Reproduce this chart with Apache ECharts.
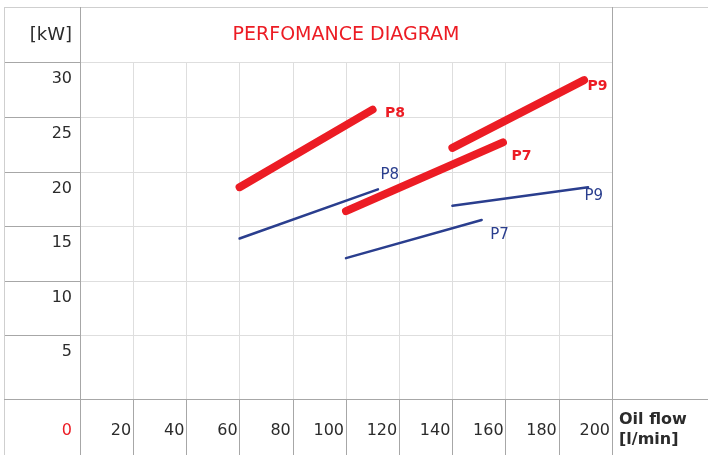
<!DOCTYPE html>
<html>
<head>
<meta charset="utf-8">
<script src="https://cdn.jsdelivr.net/npm/echarts@6/dist/echarts.min.js"></script>
<style>
  html, body { margin: 0; padding: 0; background: #fff; }
  #chart { width: 708px; height: 455px; }
</style>
</head>
<body>
<div id="chart"></div>
<script>
// values: oil flow [l/min] -> power [kW]
const redFlowP8 = [60, 110];
const redKwP8 = [18.6, 25.7];
const blueFlowP8 = [60, 112];
const blueKwP8 = [13.9, 18.4];

const redFlowP7 = [100, 159];
const redKwP7 = [16.4, 22.7];
const blueFlowP7 = [100, 151];
const blueKwP7 = [12.1, 15.6];

const redFlowP9 = [140, 189.5];
const redKwP9 = [22.2, 28.4];
const blueFlowP9 = [140, 191];
const blueKwP9 = [16.9, 18.6];

const yTicks = [5, 10, 15, 20, 25, 30];

const RED = '#ec1c24';
const BLUE = '#2a3e8e';
const DARK = '#a7a7a7';
const LIGHT = '#dedede';
const FONT = 'DejaVu Sans';

const chart = echarts.init(document.getElementById('chart'));

function pts(xs, ys) {
  return xs.map((x, i) => [x, ys[i]]);
}

function curve(name, xs, ys, red, dx, dy) {
  const last = [xs[xs.length - 1], ys[ys.length - 1]];
  return {
    name: name,
    type: 'line',
    data: pts(xs, ys),
    symbol: 'none',
    z: 5,
    lineStyle: {
      color: red ? RED : BLUE,
      width: red ? 8 : 2.5,
      cap: 'round'
    },
    markPoint: {
      silent: true,
      symbol: 'circle',
      symbolSize: 1,
      itemStyle: { color: 'rgba(0,0,0,0)' },
      data: [{ coord: last }],
      label: {
        show: true,
        formatter: name,
        position: [dx, dy],
        align: 'left',
        verticalAlign: 'middle',
        color: red ? RED : BLUE,
        fontFamily: FONT,
        fontSize: red ? 14 : 15,
        fontWeight: red ? 'bold' : 'normal'
      }
    }
  };
}

function hline(x1, x2, y, color) {
  return { type: 'line', z: 100, silent: true, shape: { x1: x1, y1: y, x2: x2, y2: y }, style: { stroke: color, lineWidth: 1 } };
}
function vline(x, y1, y2, color) {
  return { type: 'line', z: 100, silent: true, shape: { x1: x, y1: y1, x2: x, y2: y2 }, style: { stroke: color, lineWidth: 1 } };
}
function label(text, x, y, opts) {
  return {
    type: 'text', z: 100, silent: true, x: x, y: y,
    style: Object.assign({ text: text, fill: '#2b2b2b', fontFamily: FONT, fontSize: 16, verticalAlign: 'middle' }, opts)
  };
}

const option = {
  animation: false,
  backgroundColor: '#fff',
  grid: { left: 80, right: 96, top: 62.7, bottom: 56 },
  xAxis: {
    type: 'value',
    min: 0,
    max: 200,
    interval: 20,
    axisLine: { show: false, onZero: false },
    axisTick: { show: true, inside: false, length: 56, lineStyle: { color: DARK } },
    splitLine: { show: true, lineStyle: { color: LIGHT } },
    axisLabel: {
      align: 'right',
      verticalAlign: 'middle',
      margin: 32,
      padding: [0, 2, 0, 0],
      color: '#2b2b2b',
      fontFamily: FONT,
      fontSize: 16,
      formatter: v => (v === 0 ? '{r|0}' : String(v)),
      rich: { r: { color: RED, fontFamily: FONT, fontSize: 16, padding: [0, 6, 0, 0] } }
    }
  },
  yAxis: {
    type: 'value',
    min: -0.8,
    max: 30,
    axisLine: { show: false, onZero: false },
    axisTick: { show: true, inside: false, length: 76, customValues: yTicks, lineStyle: { color: DARK } },
    splitLine: { show: true, lineStyle: { color: LIGHT } },
    axisLabel: {
      customValues: yTicks,
      margin: 8,
      verticalAlign: 'top',
      lineHeight: 33,
      color: '#2b2b2b',
      fontFamily: FONT,
      fontSize: 16
    }
  },
  graphic: [
    hline(4, 708, 7.5, '#cfcfcf'),
    vline(4.5, 7, 455, '#cfcfcf'),
    vline(80.5, 7, 455, DARK),
    vline(612.5, 7, 455, DARK),
    hline(4, 708, 399.5, DARK),
    label('[kW]', 72, 35, { align: 'right', fontSize: 18 }),
    label('PERFOMANCE DIAGRAM', 346, 35, { align: 'center', fill: RED, fontSize: 19 }),
    label('Oil flow', 619, 420, { align: 'left', fontWeight: 'bold' }),
    label('[l/min]', 619, 440, { align: 'left', fontWeight: 'bold' })
  ],
  series: [
    curve('P8', redFlowP8, redKwP8, true, 13, 4),
    curve('P7', redFlowP7, redKwP7, true, 9, 14),
    curve('P9', redFlowP9, redKwP9, true, 4, 7),
    curve('P8', blueFlowP8, blueKwP8, false, 3, -14),
    curve('P7', blueFlowP7, blueKwP7, false, 9, 16),
    curve('P9', blueFlowP9, blueKwP9, false, -3, 9)
  ]
};

chart.setOption(option);
</script>
</body>
</html>
